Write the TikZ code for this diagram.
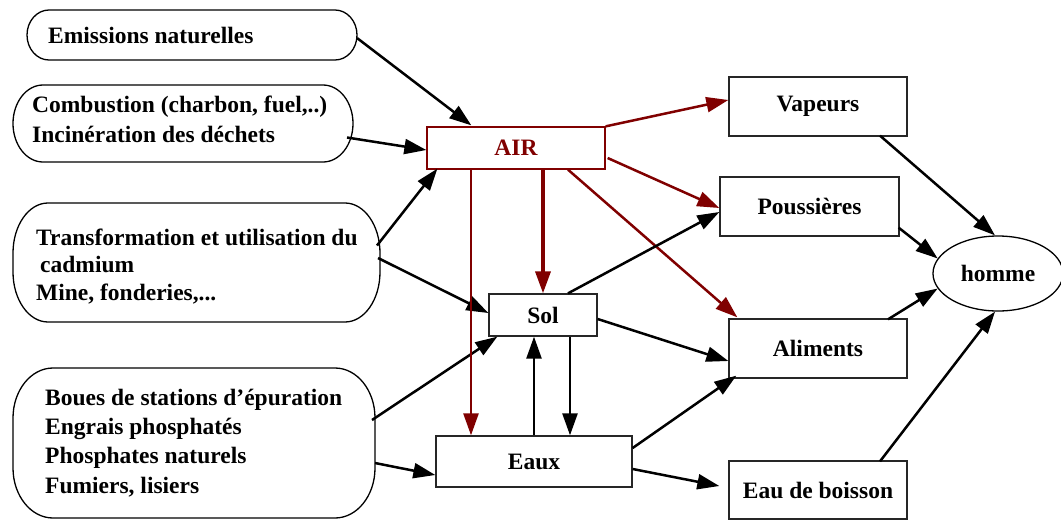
\documentclass[tikz,border=0pt]{standalone}
\usepackage{fontspec}
\setmainfont{Liberation Serif}
\usetikzlibrary{arrows.meta,shapes.geometric,calc}
\definecolor{airred}{RGB}{128,0,0}
\newcommand\srcshape[3]{% node name, x radius, y radius of the corners
  \draw[srcline] ([xshift=#2pt]#1.north west) -- ([xshift=-#2pt]#1.north east)
    arc[start angle=90,end angle=0,x radius=#2pt,y radius=#3pt]
    -- ([yshift=#3pt]#1.south east)
    arc[start angle=0,end angle=-90,x radius=#2pt,y radius=#3pt]
    -- ([xshift=#2pt]#1.south west)
    arc[start angle=270,end angle=180,x radius=#2pt,y radius=#3pt]
    -- ([yshift=-#3pt]#1.north west)
    arc[start angle=180,end angle=90,x radius=#2pt,y radius=#3pt] -- cycle;}
\begin{document}
\begin{tikzpicture}[x=1pt,y=1pt,
  every node/.style={font=\fontsize{23.5}{28}\selectfont\bfseries},
  box/.style={draw=black!85, line width=1.3pt, inner sep=0pt},
  srcarea/.style={inner sep=0pt, outer sep=0pt},
  srcline/.style={draw=black, line width=1.3pt},
  txt/.style={anchor=base west, inner sep=0pt, align=left},
  arr/.style={draw=black, line width=2.5pt, -{Triangle[length=22pt,width=15pt]}},
  rarr/.style={draw=airred, line width=2.5pt, -{Triangle[length=22pt,width=15pt]}}]
\useasboundingbox (0,0) rectangle (1061,-520);

% source shapes
\node[srcarea, minimum width=330, minimum height=50] (emis) at (192,-35) {};
\node[srcarea, minimum width=340, minimum height=77] (comb) at (183,-123.5) {};
\node[srcarea, minimum width=367, minimum height=119] (trans) at (196.5,-262.5) {};
\node[srcarea, minimum width=362, minimum height=150] (boues) at (194,-443) {};
\srcshape{emis}{22}{25}
\srcshape{comb}{30}{38.5}
\srcshape{trans}{35}{50}
\srcshape{boues}{40}{50}

\node[txt] (temis) at (48,-43) {Emissions naturelles};
\node[txt, font=\fontsize{23.5}{30}\selectfont\bfseries] (tcomb) at (32,-142) {Combustion (charbon, fuel,..)\\Incinération des déchets};
\node[txt, font=\fontsize{23.5}{27.5}\selectfont\bfseries] (ttrans) at (36,-300) {Transformation et utilisation du\\\hspace{4pt}cadmium\\Mine, fonderies,...};
\node[txt, font=\fontsize{23.5}{29.3}\selectfont\bfseries] (tboues) at (45,-493) {Boues de stations d’épuration\\Engrais phosphatés\\Phosphates naturels\\Fumiers, lisiers};

% boxes
\node[box, draw=airred, text=airred, minimum width=178, minimum height=42] (air) at (516,-148) {AIR};
\node[box, minimum width=108, minimum height=42] (sol) at (543,-315) {Sol};
\node[box, minimum width=196, minimum height=51] (eaux) at (534,-461.5) {Eaux};
\node[box, minimum width=178, minimum height=59] (vap) at (818,-106.5) {Vapeurs};
\node[box, minimum width=179, minimum height=59] (pous) at (809.5,-206.5) {Poussières};
\node[box, minimum width=178, minimum height=59] (alim) at (818,-348.5) {Aliments};
\node[box, minimum width=178, minimum height=58] (boi) at (818,-490) {Eau de boisson};
\node[draw, ellipse, line width=1.3pt, minimum width=130, minimum height=75, inner sep=0pt] (homme) at (998,-273.5) {homme};

% sources -> compartments
\draw[arr] ([yshift=-3]emis.east) -- ([xshift=45,yshift=1]air.north west);
\draw[arr] ([xshift=-6,yshift=-14]comb.east) -- ([yshift=-2]air.west);
\draw[arr] ([xshift=-3,yshift=17]trans.east) -- ([xshift=11,yshift=1]air.south west);
\draw[arr] ([xshift=-2,yshift=4.5]trans.east) -- ([yshift=2]sol.west);
\draw[arr] ([xshift=-3,yshift=23]boues.east) -- ([xshift=9]sol.south west);
\draw[arr] ([yshift=-20]boues.east) -- ([yshift=-13.5]eaux.west);

% AIR red arrows
\draw[rarr, line width=3.5pt] (air.south -| sol.north) -- (sol.north);
\draw[rarr] ([xshift=-45]air.south) -- ([xshift=-45]air.south |- eaux.north);
\draw[rarr] (air.north east) -- ([yshift=6.5]vap.west);
\draw[rarr] ([xshift=2,yshift=-10]air.east) -- ([yshift=-1.5]pous.west);
\draw[rarr] ([xshift=52]air.south) -- ([xshift=9,yshift=1]alim.north west);

% Sol / Eaux
\draw[arr] ([xshift=25]sol.north) -- ([yshift=-5.5]pous.west);
\draw[arr] ([yshift=-4]sol.east) -- ([yshift=-12.5]alim.west);
\draw[arr] ([xshift=27]sol.south) -- ([xshift=27]sol.south |- eaux.north);
\draw[arr] (eaux.north) -- (eaux.north |- sol.south);
\draw[arr] ([yshift=13.5]eaux.east) -- ([xshift=8,yshift=3]alim.south west);
\draw[arr] ([yshift=-7.5]eaux.east) -- ([xshift=-9,yshift=4]boi.west);

% -> homme
\draw[arr] ([xshift=62,yshift=1]vap.south) -- ([xshift=-3]homme.north);
\draw[arr] ([xshift=-1,yshift=9]pous.south east) -- (homme.166);
\draw[arr] ([xshift=70,yshift=-1]alim.north) -- (homme.194);
\draw[arr] ([xshift=62,yshift=-1]boi.north) -- ([xshift=-3]homme.south);
\end{tikzpicture}
\end{document}
